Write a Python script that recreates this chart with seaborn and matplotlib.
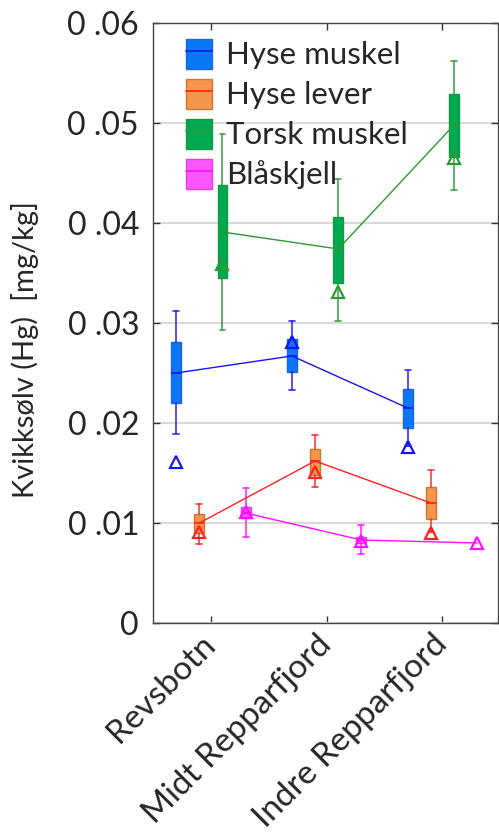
"""
Kvikksølv (Hg) i fisk og blåskjell, tre stasjoner.
Boksene er tegnet fra oppsummerte verdier (min, q1, median, q3, maks).
"""

import numpy as np
import pandas as pd
import matplotlib
matplotlib.use("Agg")
import matplotlib.pyplot as plt
from matplotlib.patches import Patch
from matplotlib.lines import Line2D
import seaborn as sns

stations = ["Revsbotn", "Midt Repparfjord", "Indre Repparfjord"]
series = ["Hyse muskel", "Hyse lever", "Torsk muskel", "Blåskjell"]

# per serie: verdier for de tre stasjonene (None = ingen boks)
hyse_muskel_med = [0.0250, 0.0267, 0.0215]
hyse_muskel_q1 = [0.0220, 0.0251, 0.0195]
hyse_muskel_q3 = [0.0281, 0.0284, 0.0234]
hyse_muskel_lo = [0.0189, 0.0233, 0.0177]
hyse_muskel_hi = [0.0312, 0.0302, 0.0253]
hyse_muskel_tri = [0.0161, 0.0281, 0.0176]

hyse_lever_med = [0.0100, 0.0162, 0.0120]
hyse_lever_q1 = [0.0090, 0.0148, 0.0104]
hyse_lever_q3 = [0.0109, 0.0174, 0.0136]
hyse_lever_lo = [0.0079, 0.0136, 0.0091]
hyse_lever_hi = [0.0119, 0.0188, 0.0153]
hyse_lever_tri = [0.0091, 0.0151, 0.0090]

torsk_muskel_med = [0.0391, 0.0374, 0.0498]
torsk_muskel_q1 = [0.0345, 0.0340, 0.0466]
torsk_muskel_q3 = [0.0438, 0.0406, 0.0529]
torsk_muskel_lo = [0.0293, 0.0302, 0.0433]
torsk_muskel_hi = [0.0489, 0.0444, 0.0562]
torsk_muskel_tri = [0.0359, 0.0331, 0.0465]

blaskjell_med = [0.0110, 0.0083, 0.0080]
blaskjell_q1 = [0.0105, 0.0080, None]
blaskjell_q3 = [0.0116, 0.0086, None]
blaskjell_lo = [0.0086, 0.0069, None]
blaskjell_hi = [0.0135, 0.0098, None]
blaskjell_tri = [0.0111, 0.0082, 0.0080]

y_ticks = [0, 0.01, 0.02, 0.03, 0.04, 0.05, 0.06]
y_ticklabels = ["0", "0 .01", "0 .02", "0 .03", "0 .04", "0 .05", "0 .06"]

offsets = [-0.3, -0.1, 0.1, 0.3]
fill_colors = ["#0A78F5", "#F5964B", "#00AA50", "#FF55FF"]
edge_colors = ["#1E64E0", "#C87832", "#119944", "#DD44DD"]
line_colors = ["#1414F5", "#FF2020", "#2A9A35", "#FF10FF"]

stats = {
    "Hyse muskel": (hyse_muskel_med, hyse_muskel_q1, hyse_muskel_q3,
                    hyse_muskel_lo, hyse_muskel_hi, hyse_muskel_tri),
    "Hyse lever": (hyse_lever_med, hyse_lever_q1, hyse_lever_q3,
                   hyse_lever_lo, hyse_lever_hi, hyse_lever_tri),
    "Torsk muskel": (torsk_muskel_med, torsk_muskel_q1, torsk_muskel_q3,
                     torsk_muskel_lo, torsk_muskel_hi, torsk_muskel_tri),
    "Blåskjell": (blaskjell_med, blaskjell_q1, blaskjell_q3,
                  blaskjell_lo, blaskjell_hi, blaskjell_tri),
}

sns.set_theme(style="ticks")
plt.rcParams["font.family"] = ["Lato", "DejaVu Sans"]

fig = plt.figure(figsize=(4.99, 8.36), dpi=100)
ax = fig.add_axes([0.3066, 0.2548, 0.6914, 0.7177])

for k, name in enumerate(series):
    med, q1, q3, lo, hi, tri = stats[name]
    pos = [i + 1 + offsets[k] for i in range(len(stations))]

    bstats, bpos = [], []
    for i in range(len(stations)):
        if q1[i] is None:
            continue
        bstats.append(dict(med=med[i], q1=q1[i], q3=q3[i],
                           whislo=lo[i], whishi=hi[i], fliers=[]))
        bpos.append(pos[i])
    ax.bxp(bstats, positions=bpos, widths=0.085, patch_artist=True,
           showfliers=False, capwidths=0.05, manage_ticks=False,
           boxprops=dict(facecolor=fill_colors[k], edgecolor=edge_colors[k],
                         linewidth=1.0),
           medianprops=dict(color=line_colors[k], linewidth=1.2),
           whiskerprops=dict(color=line_colors[k], linewidth=1.3, alpha=0.8),
           capprops=dict(color=line_colors[k], linewidth=1.3, alpha=0.8),
           zorder=3)

    df = pd.DataFrame({"pos": pos, "med": med, "tri": tri})
    sns.lineplot(data=df, x="pos", y="med", ax=ax, color=line_colors[k],
                 linewidth=1.0, zorder=4, legend=False)
    sns.lineplot(data=df, x="pos", y="tri", ax=ax, color=line_colors[k],
                 linestyle="", marker="^", markersize=8,
                 markerfacecolor="none", markeredgecolor=line_colors[k],
                 markeredgewidth=1.6, zorder=5, legend=False)

ax.set_xlim(0.5, 3.48)
ax.set_ylim(0, 0.06)
ax.set_xticks([1, 2, 3])
ax.set_xticklabels(stations, rotation=45, ha="right", va="center",
                   rotation_mode="anchor", fontsize=24)
ax.set_yticks(y_ticks)
ax.set_yticklabels(y_ticklabels, fontsize=23)
ax.set_xlabel("")
ax.set_ylabel("Kvikksølv (Hg)  [mg/kg]", fontsize=21)
ax.yaxis.set_label_coords(-0.33, 0.455)
ax.grid(axis="y", color="#D9D9D9", linewidth=1.5, zorder=0)
ax.set_axisbelow(True)
ax.tick_params(direction="in", top=True, right=True, length=5,
               width=1, color="#333333")
ax.tick_params(axis="x", pad=12)
ax.tick_params(axis="y", pad=10)
for sp in ax.spines.values():
    sp.set_color("#444444")
    sp.set_linewidth(1.0)

handles = []
for k, name in enumerate(series):
    handles.append((Patch(facecolor=fill_colors[k], edgecolor=edge_colors[k]),
                    Line2D([], [], color=line_colors[k], linewidth=1.2)))
ax.legend(handles, series, loc="upper left", bbox_to_anchor=(0.05, 1.0),
          frameon=False, fontsize=22.5, handlelength=0.85, handleheight=1.1,
          handletextpad=0.45, labelspacing=0.3, borderaxespad=0.1)

fig.savefig("out.png", dpi=100)
